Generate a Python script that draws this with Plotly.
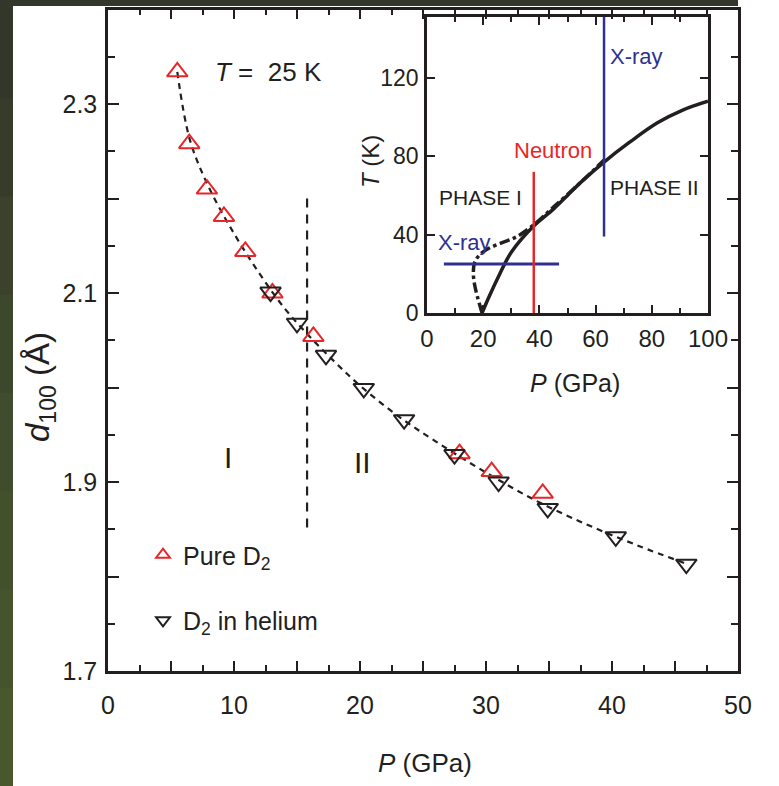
import plotly.graph_objects as go

W, H = 779, 786

# ---------------- data (main panel) ----------------
pure_P = [5.5, 6.45, 7.85, 9.2, 10.9, 13.05, 16.3, 27.9, 30.45, 34.5]
pure_d = [2.334, 2.258, 2.210, 2.181, 2.144, 2.100, 2.054, 1.930, 1.911, 1.888]
he_P = [12.9, 15.0, 17.3, 20.3, 23.5, 27.5, 31.0, 34.9, 40.3, 45.9]
he_d = [2.101, 2.068, 2.034, 1.999, 1.966, 1.929, 1.900, 1.872, 1.842, 1.813]
fit_P = [5.5, 6.5, 8, 10, 12, 14, 16, 18, 20, 23, 26, 30, 34, 38, 42, 46]
fit_d = [2.334, 2.262, 2.212, 2.163, 2.121, 2.084, 2.054, 2.027, 2.002, 1.970,
         1.943, 1.910, 1.880, 1.855, 1.833, 1.813]
bound_P = [15.8, 15.8]
bound_d = [2.20, 1.845]

x_ticks = list(range(0, 51, 5))
x_labels = [str(v) if v % 10 == 0 else "" for v in x_ticks]
y_ticks = [1.7, 1.8, 1.9, 2.0, 2.1, 2.2, 2.3, 2.4]
y_labels = ["1.7", "", "1.9", "", "2.1", "", "2.3", ""]

# ---------------- data (inset) ----------------
solid_P = [19.6, 22, 24.9, 30, 37.7, 45, 50, 55, 63, 72, 82, 91, 100]
solid_T = [0, 8, 17, 31, 44, 53, 60, 67, 77, 87, 97, 103.5, 108]
dd_P = [19.6, 18, 17, 16.5, 17, 19, 22, 27, 32, 38, 45, 55, 63]
dd_T = [0, 8, 14, 20, 26, 30, 33, 36, 39, 45, 54, 67, 78]
xray_low_P = [6, 47]
xray_low_T = [25, 25]
neutron_P = [38, 38]
neutron_T = [0, 72]
xray_high_P = [63, 63]
xray_high_T = [39, 151]

ix_ticks = [0, 20, 40, 60, 80, 100]
iy_ticks = [0, 40, 80, 120]

INK = "#231f20"
RED = "#e8262a"
BLUE = "#2e3192"
FONT = "Liberation Sans, Arial, sans-serif"

fig = go.Figure()

# main panel
fig.add_trace(go.Scatter(x=fit_P, y=fit_d, mode="lines", line=dict(color=INK, width=2.2, dash="6px,5px", shape="spline"),
                         showlegend=False, hoverinfo="skip"))
fig.add_trace(go.Scatter(x=bound_P, y=bound_d, mode="lines", line=dict(color=INK, width=2.2, dash="9px,7px"),
                         showlegend=False, hoverinfo="skip"))
fig.add_trace(go.Scatter(x=pure_P, y=pure_d, mode="markers", name="Pure D<sub>2</sub>", legendgroup="a",
                         marker=dict(symbol="triangle-up-open", size=18, color=RED, line=dict(width=2, color=RED))))
fig.add_trace(go.Scatter(x=he_P, y=he_d, mode="markers", name="D<sub>2</sub> in helium", legendgroup="b",
                         marker=dict(symbol="triangle-down-open", size=18, color=INK, line=dict(width=2, color=INK))))

# inset
fig.add_trace(go.Scatter(x=solid_P, y=solid_T, xaxis="x2", yaxis="y2", mode="lines",
                         line=dict(color=INK, width=3.5, shape="spline"), showlegend=False))
fig.add_trace(go.Scatter(x=dd_P, y=dd_T, xaxis="x2", yaxis="y2", mode="lines",
                         line=dict(color=INK, width=3.5, dash="dashdot", shape="spline"), showlegend=False))
fig.add_trace(go.Scatter(x=xray_low_P, y=xray_low_T, xaxis="x2", yaxis="y2", mode="lines",
                         line=dict(color=BLUE, width=3), showlegend=False))
fig.add_trace(go.Scatter(x=neutron_P, y=neutron_T, xaxis="x2", yaxis="y2", mode="lines",
                         line=dict(color=RED, width=2.5), showlegend=False))
fig.add_trace(go.Scatter(x=xray_high_P, y=xray_high_T, xaxis="x2", yaxis="y2", mode="lines",
                         line=dict(color=BLUE, width=2.5), showlegend=False))

def axis_common(fs):
    return dict(showline=True, linecolor=INK, linewidth=2.5, mirror="ticks", ticks="inside",
                tickcolor=INK, tickwidth=2.2, showgrid=False, zeroline=False, automargin=False,
                tickfont=dict(family=FONT, size=fs, color=INK))

fig.update_layout(
    template="none",
    width=W, height=H,
    margin=dict(l=0, r=0, t=0, b=0),
    paper_bgcolor="white", plot_bgcolor="rgba(0,0,0,0)",
    font=dict(family=FONT, size=25, color=INK),
    xaxis=dict(domain=[108 / W, 738 / W], range=[0, 50], tickmode="array", tickvals=x_ticks, ticktext=x_labels,
               ticklen=10, ticklabelstandoff=10,
               minor=dict(tickmode="linear", tick0=0, dtick=2.5, ticks="inside", ticklen=6, tickcolor=INK, tickwidth=2,
                          showgrid=False),
               anchor="y", **axis_common(25)),
    yaxis=dict(domain=[(H - 671) / H, (H - 9.5) / H], range=[1.7, 2.4], tickmode="array", tickvals=y_ticks,
               ticktext=y_labels, ticklen=11, ticklabelstandoff=3,
               minor=dict(tickmode="linear", tick0=1.7, dtick=0.05, ticks="inside", ticklen=7, tickcolor=INK, tickwidth=2,
                          showgrid=False),
               anchor="x", **axis_common(25)),
    xaxis2=dict(domain=[427 / W, 708 / W], range=[0, 100], tickmode="array", tickvals=ix_ticks,
                ticklen=8, ticklabelstandoff=2,
                minor=dict(tickmode="linear", tick0=0, dtick=10, ticks="inside", ticklen=5, tickcolor=INK, tickwidth=2,
                           showgrid=False),
                anchor="y2", **axis_common(24)),
    yaxis2=dict(domain=[(H - 313) / H, (H - 17) / H], range=[0, 151], tickmode="array", tickvals=iy_ticks,
                ticklen=8, ticklabelstandoff=1, anchor="x2", **axis_common(23)),
    legend=dict(x=143 / W, y=(H - 532) / H, xanchor="left", yanchor="top", bgcolor="rgba(0,0,0,0)",
                font=dict(family=FONT, size=25, color=INK), itemsizing="constant", tracegroupgap=30,
                itemwidth=30),
    showlegend=True,
)

# dark border strips (overlapping bands to avoid seams)
left_cols = ["#33372a", "#363c2a", "#3a422b", "#3d472b", "#404c2b", "#43502c", "#46542c", "#48572c"]
n = len(left_cols)
for i, c in enumerate(left_cols):
    fig.add_shape(type="rect", xref="paper", yref="paper", x0=0, x1=13 / W,
                  y0=max(0, 1 - (i + 1) / n - 3 / H), y1=1 - i / n, fillcolor=c, line=dict(width=0), layer="above")
fig.add_shape(type="rect", xref="paper", yref="paper", x0=0, x1=738 / W, y0=(H - 6) / H, y1=1,
              fillcolor="#33372a", line=dict(width=0), layer="above")

ann = [
    dict(text="<i>T</i> =  25 K", xref="paper", yref="paper", x=268 / W, y=(H - 72) / H, size=26),
    dict(text="I", xref="x", yref="y", x=9.5, y=1.926, size=30),
    dict(text="II", xref="x", yref="y", x=20.2, y=1.921, size=30),
    dict(text="<i>d</i><sub>100</sub> (Å)", xref="paper", yref="paper", x=40 / W, y=(H - 387) / H,
         textangle=-90, size=33),
    dict(text="<i>P</i> (GPa)", xref="paper", yref="paper", x=425 / W, y=(H - 763) / H, size=26),
    dict(text="<i>P</i> (GPa)", xref="paper", yref="paper", x=575 / W, y=(H - 383) / H, size=25),
    dict(text="<i>T</i> (K)", xref="paper", yref="paper", x=370 / W, y=(H - 162) / H, textangle=-90, size=24),
    dict(text="X-ray", xref="x2", yref="y2", x=64.5, y=130.7, xanchor="left", size=22, color=BLUE),
    dict(text="Neutron", xref="x2", yref="y2", x=45, y=83, size=22, color=RED),
    dict(text="PHASE I", xref="x2", yref="y2", x=19, y=59, size=21),
    dict(text="PHASE II", xref="x2", yref="y2", x=81, y=64, size=21),
    dict(text="X-ray", xref="x2", yref="y2", x=13.5, y=36, size=22, color=BLUE),
]
for a in ann:
    size = a.pop("size")
    color = a.pop("color", INK)
    a.setdefault("xanchor", "center")
    fig.add_annotation(showarrow=False, yanchor="middle", font=dict(family=FONT, size=size, color=color), **a)

fig.write_html("out.html")
